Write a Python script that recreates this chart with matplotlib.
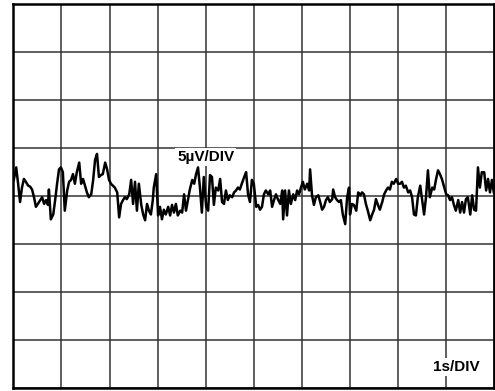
import matplotlib.pyplot as plt
import numpy as np

t_s = [0.01, 0.06, 0.10, 0.14, 0.18, 0.22, 0.26, 0.31, 0.35, 0.39, 0.43, 0.47, 0.51, 0.56, 0.60,
       0.64, 0.68, 0.72, 0.74, 0.78, 0.83, 0.87, 0.91, 0.95, 0.99, 1.03, 1.07, 1.12, 1.16, 1.20,
       1.24, 1.28, 1.32, 1.37, 1.41, 1.45, 1.49, 1.53, 1.57, 1.62, 1.66, 1.70, 1.74, 1.78, 1.82,
       1.86, 1.91, 1.95, 1.99, 2.03, 2.07, 2.11, 2.16, 2.20, 2.24, 2.28, 2.32, 2.36, 2.41, 2.45,
       2.49, 2.53, 2.57, 2.61, 2.66, 2.70, 2.74, 2.78, 2.82, 2.86, 2.90, 2.92, 2.97, 3.01, 3.05,
       3.09, 3.13, 3.17, 3.22, 3.26, 3.30, 3.34, 3.38, 3.42, 3.47, 3.51, 3.55, 3.59, 3.63, 3.67,
       3.72, 3.76, 3.80, 3.84, 3.88, 3.92, 3.96, 4.01, 4.05, 4.09, 4.13, 4.17, 4.21, 4.26, 4.30,
       4.34, 4.38, 4.42, 4.46, 4.50, 4.55, 4.59, 4.63, 4.67, 4.71, 4.75, 4.80, 4.84, 4.88, 4.92,
       4.96, 5.00, 5.05, 5.09, 5.13, 5.17, 5.21, 5.25, 5.30, 5.34, 5.38, 5.42, 5.46, 5.50, 5.55,
       5.59, 5.61, 5.65, 5.69, 5.73, 5.77, 5.82, 5.86, 5.90, 5.94, 5.98, 6.02, 6.06, 6.11, 6.15,
       6.17, 6.21, 6.25, 6.29, 6.34, 6.38, 6.42, 6.46, 6.50, 6.54, 6.58, 6.63, 6.65, 6.69, 6.73,
       6.77, 6.81, 6.85, 6.90, 6.94, 6.98, 7.00, 7.04, 7.08, 7.13, 7.17, 7.21, 7.25, 7.29, 7.33,
       7.37, 7.42, 7.46, 7.50, 7.54, 7.58, 7.62, 7.67, 7.71, 7.75, 7.79, 7.83, 7.87, 7.91, 7.96,
       8.00, 8.04, 8.08, 8.12, 8.16, 8.21, 8.25, 8.29, 8.33, 8.37, 8.41, 8.46, 8.50, 8.54, 8.58,
       8.62, 8.66, 8.71, 8.75, 8.79, 8.83, 8.87, 8.91, 8.95, 9.00, 9.04, 9.08, 9.12, 9.16, 9.20,
       9.25, 9.29, 9.33, 9.37, 9.41, 9.45, 9.50, 9.54, 9.58, 9.62, 9.66, 9.70, 9.74, 9.79, 9.83,
       9.87, 9.91, 9.95, 9.99]

v_uV = [1.7, 3.0, 1.3, -0.6, 0.9, 1.8, 1.5, 1.1, 1.0, 0.7, -0.1, -1.1, -0.8, -0.4, -0.1,
        -0.8, -0.4, -0.9, 0.7, -2.4, -1.9, -0.4, 1.3, 2.8, 3.0, 2.5, -1.5, 0.6, 1.5, 1.7,
        2.3, 1.3, 2.5, 3.5, 1.3, 1.8, 1.1, 0.4, -0.1, 0.2, 1.7, 3.8, 4.4, 2.0, 2.2,
        2.3, 3.5, 2.8, 1.7, 1.3, 1.1, 0.9, 0.4, -2.2, -0.8, -0.4, -0.1, -0.3, 0.2, 1.7,
        -0.8, 1.5, -1.5, 1.3, -0.9, -1.9, -2.5, -0.8, -1.5, -1.9, -0.4, 0.9, 2.3, -2.0, -1.1,
        -2.4, -1.4, -1.9, -1.1, -2.0, -0.9, -1.7, -0.8, -2.0, -1.5, -1.7, 0.2, -1.5, -0.4, 0.7,
        1.7, 1.3, 2.3, 3.0, 0.9, -1.7, 2.0, -1.1, -1.5, 2.2, 2.0, -0.9, 0.9, 0.6, 1.8,
        -0.6, -0.8, 0.6, -0.4, 0.1, -0.1, 0.4, 0.6, 0.9, 0.7, 1.3, 2.0, 2.5, 0.2, -0.6,
        1.7, 1.3, -1.1, -0.9, -1.4, -1.1, 0.2, 0.6, 0.2, 0.6, -1.1, -0.4, 0.2, -0.3, -0.8,
        0.6, -2.4, 0.6, -2.0, 0.6, -0.8, 0.2, -0.4, 0.6, 0.2, 0.9, 1.5, 0.7, 1.3, 0.6,
        2.8, 0.1, -0.9, -0.1, 0.1, -0.6, -1.4, -1.1, -0.4, -0.1, -0.6, -0.3, 0.7, -0.1, -0.4,
        -0.6, -0.4, -1.9, -2.9, -0.1, 0.9, -1.9, -0.8, -0.9, -1.5, 0.4, 0.1, 0.4, 0.2, -0.8,
        -1.5, -2.5, -1.9, -1.4, -0.3, -0.9, -1.4, -0.6, 0.2, 0.6, 0.9, 0.7, 1.5, 1.3, 1.8,
        1.3, 1.3, 1.5, 0.9, 1.1, 0.4, 0.6, -0.1, -1.9, -2.0, -0.1, 1.1, -0.4, -1.9, -0.1,
        2.7, -0.1, 0.9, 0.7, 1.8, 2.7, 2.3, 1.8, 1.1, 0.2, 0.1, -0.4, -0.1, -0.9, -1.5,
        -0.4, -1.7, -0.6, -1.7, -0.3, -0.1, -1.9, 0.1, -1.4, -1.5, 3.0, 0.9, 2.5, 2.5, 0.6,
        1.8, 0.4, 1.7, 0.4]

# Escalas de la pantalla
s_per_div = 1
uV_per_div = 5
n_xdiv = 10
n_ydiv = 8

fig = plt.figure(figsize=(4.95, 3.91), dpi=100)
ax = fig.add_axes([0.0269, 0.0064, 0.9717, 0.9834])

ax.plot(t_s, v_uV, color='black', linewidth=1.8, zorder=3)

ax.set_xlim(0, n_xdiv * s_per_div)
ax.set_ylim(-n_ydiv / 2 * uV_per_div, n_ydiv / 2 * uV_per_div)
ax.set_xticks(np.arange(0, n_xdiv * s_per_div + 1, s_per_div))
ax.set_yticks(np.arange(-n_ydiv / 2 * uV_per_div, n_ydiv / 2 * uV_per_div + 1, uV_per_div))
ax.grid(True, color='#333333', linewidth=1.1)
ax.tick_params(length=0, labelbottom=False, labelleft=False)
for sp in ax.spines.values():
    sp.set_linewidth(1.8)
    sp.set_color('black')

box = dict(facecolor='white', edgecolor='none', pad=1.5)
ax.text(4.0, 4.1, '5µV/DIV', ha='center', va='center', fontsize=11, fontweight='bold',
        family='Liberation Sans', bbox=box, zorder=2)
ax.text(9.2, -17.8, '1s/DIV', ha='center', va='center', fontsize=11, fontweight='bold',
        family='Liberation Sans', bbox=box, zorder=2)

fig.savefig('out.png', dpi=100)
